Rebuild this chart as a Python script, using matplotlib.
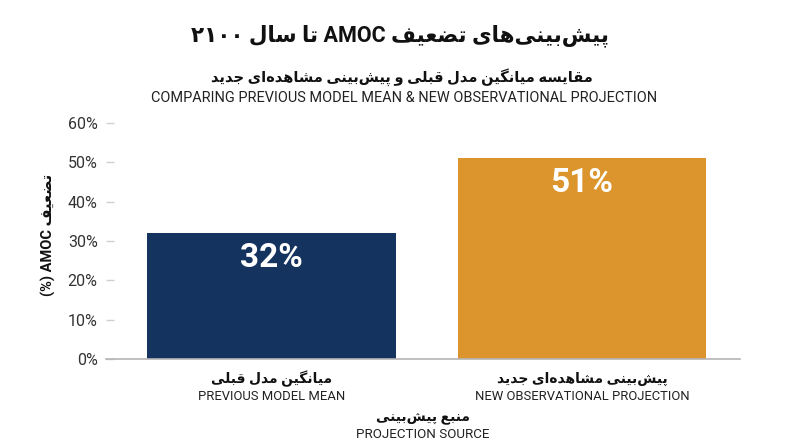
import matplotlib
matplotlib.use("Agg")
import matplotlib.pyplot as plt
import matplotlib.transforms as mtransforms

# chart data
values = [32, 51]
value_labels = ["32%", "51%"]
categories_fa = ["میانگین مدل قبلی", "پیش‌بینی مشاهده‌ای جدید"]
categories_en = ["PREVIOUS MODEL MEAN", "NEW OBSERVATIONAL PROJECTION"]
bar_colors = ["#14335E", "#DB952C"]
yticks = [0, 10, 20, 30, 40, 50, 60]

title_fa = "پیش‌بینی‌های تضعیف AMOC تا سال ۲۱۰۰"
subtitle_fa = "مقایسه میانگین مدل قبلی و پیش‌بینی مشاهده‌ای جدید"
subtitle_en = "COMPARING PREVIOUS MODEL MEAN & NEW OBSERVATIONAL PROJECTION"
ylabel_fa = "تضعیف AMOC (%)"
xlabel_fa = "منبع پیش‌بینی"
xlabel_en = "PROJECTION SOURCE"

# matplotlib has no arabic shaping, so pick presentation forms by hand
# (isolated, final, initial, medial); two entries = joins only to the right
FORMS = {
    'ا': (0xFE8D, 0xFE8E),
    'د': (0xFEA9, 0xFEAA),
    'ر': (0xFEAD, 0xFEAE),
    'و': (0xFEED, 0xFEEE),
    'ب': (0xFE8F, 0xFE90, 0xFE91, 0xFE92),
    'پ': (0xFB56, 0xFB57, 0xFB58, 0xFB59),
    'ت': (0xFE95, 0xFE96, 0xFE97, 0xFE98),
    'ج': (0xFE9D, 0xFE9E, 0xFE9F, 0xFEA0),
    'س': (0xFEB1, 0xFEB2, 0xFEB3, 0xFEB4),
    'ش': (0xFEB5, 0xFEB6, 0xFEB7, 0xFEB8),
    'ض': (0xFEBD, 0xFEBE, 0xFEBF, 0xFEC0),
    'ع': (0xFEC9, 0xFECA, 0xFECB, 0xFECC),
    'ف': (0xFED1, 0xFED2, 0xFED3, 0xFED4),
    'ق': (0xFED5, 0xFED6, 0xFED7, 0xFED8),
    'گ': (0xFB92, 0xFB93, 0xFB94, 0xFB95),
    'ل': (0xFEDD, 0xFEDE, 0xFEDF, 0xFEE0),
    'م': (0xFEE1, 0xFEE2, 0xFEE3, 0xFEE4),
    'ن': (0xFEE5, 0xFEE6, 0xFEE7, 0xFEE8),
    'ه': (0xFEE9, 0xFEEA, 0xFEEB, 0xFEEC),
    'ی': (0xFBFC, 0xFBFD, 0xFBFE, 0xFBFF),
    'ي': (0xFEF1, 0xFEF2, 0xFEF3, 0xFEF4),
}


def shape(word):
    out = []
    for i, c in enumerate(word):
        if c not in FORMS:
            if c != '\u200c':
                out.append(c)
            continue
        prev = word[i - 1] if i > 0 else None
        nxt = word[i + 1] if i + 1 < len(word) else None
        f = FORMS[c]
        jp = prev in FORMS and len(FORMS[prev]) == 4
        jn = len(f) == 4 and nxt in FORMS
        if jp and jn:
            g = f[3]
        elif jp:
            g = f[1]
        elif jn:
            g = f[2]
        else:
            g = f[0]
        out.append(chr(g))
    return ''.join(reversed(out))


def rtl(text):
    words = text.split(' ')
    return ' '.join(shape(w) if any(c in FORMS for c in w) else w
                    for w in reversed(words))


plt.rcParams['font.family'] = ['Roboto', 'DejaVu Sans']

fig = plt.figure(figsize=(8, 4.47), dpi=100)
ax = fig.add_axes([106 / 800, 88 / 447, 634 / 800, 236 / 447])

x = list(range(len(values)))
bars = ax.bar(x, values, width=0.8, color=bar_colors)
for b, lab in zip(bars, value_labels):
    ax.annotate(lab, xy=(b.get_x() + b.get_width() / 2, b.get_height()),
                xytext=(0, -18), textcoords='offset points',
                ha='center', va='center', color='white',
                fontsize=24, fontweight='bold')

ax.set_xlim(-0.533, 1.509)
ax.set_ylim(0, 60)
ax.set_yticks(yticks)
ax.set_yticklabels([f"{t}%" for t in yticks])
ax.set_xticks([])
ax.tick_params(axis='y', direction='in', length=6, width=1, color='#d0d0d0',
               labelsize=11.5, labelcolor='#333333', pad=6)
for s in ['left', 'top', 'right']:
    ax.spines[s].set_visible(False)
ax.spines['bottom'].set_color('#b5b5b5')
ax.spines['bottom'].set_linewidth(1.2)

# category labels under each bar
tr = mtransforms.blended_transform_factory(ax.transData, fig.transFigure)
for i in x:
    ax.text(i, 1 - 379 / 447, rtl(categories_fa[i]), transform=tr,
            ha='center', va='center', fontsize=10, fontweight='bold',
            color='#111111')
    ax.text(i, 1 - 396 / 447, categories_en[i], transform=tr,
            ha='center', va='center', fontsize=9.4, color='#222222')

# axis title, centred on the plot area
tr2 = mtransforms.blended_transform_factory(ax.transAxes, fig.transFigure)
ax.text(0.5, 1 - 418 / 447, rtl(xlabel_fa), transform=tr2,
        ha='center', va='center', fontsize=10, fontweight='bold',
        color='#111111')
ax.text(0.5, 1 - 434 / 447, xlabel_en, transform=tr2,
        ha='center', va='center', fontsize=9.6, color='#222222')

fig.text(48 / 800, 1 - 235 / 447, rtl(ylabel_fa), rotation=90,
         ha='center', va='center', fontsize=10.5, fontweight='bold',
         color='#111111')

fig.text(0.5, 1 - 36 / 447, rtl(title_fa), ha='center', va='center',
         fontsize=15.5, fontweight='bold', color='#111111')
fig.text(0.503, 1 - 77 / 447, rtl(subtitle_fa), ha='center', va='center',
         fontsize=10.5, fontweight='bold', color='#111111')
fig.text(0.505, 1 - 98 / 447, subtitle_en, ha='center', va='center',
         fontsize=10.45, color='#222222')

fig.savefig("out.png", dpi=100, facecolor='white')
